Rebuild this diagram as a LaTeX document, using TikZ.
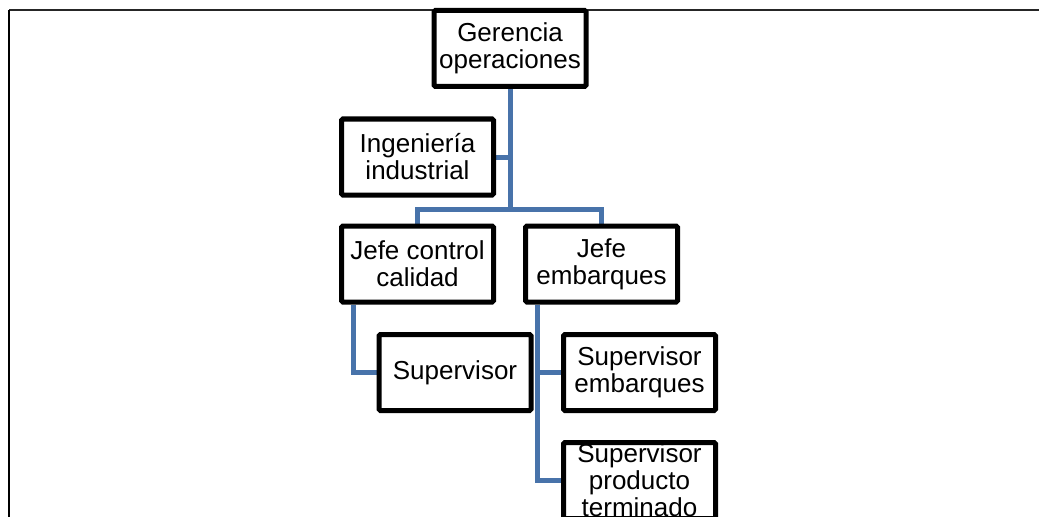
\documentclass[tikz,border=0pt]{standalone}
\usepackage{fontspec}
\setmainfont{Liberation Sans}
\usepackage{xcolor}
\usetikzlibrary{backgrounds}
\definecolor{orgblue}{RGB}{72,115,170}

\begin{document}
\begin{tikzpicture}[
    x=0.75pt, y=-0.75pt,
    font=\fontsize{19.5}{20.25}\selectfont,
    box/.style={draw, line width=3.75pt, rectangle, rounded corners=1pt, fill=white,
                minimum width=114pt, minimum height=57pt, inner sep=2pt, align=center},
    conn/.style={draw=orgblue, line width=3.75pt},
]
\useasboundingbox (0,0) rectangle (1039,517);
\clip (0,0) rectangle (1039,517);

% Frame
\draw[line width=1.5pt, black!85] (9,10) -- (1039,10);
\draw[line width=1.5pt] (9,10) -- (9,517);

% Boxes
\node[box] (ger) at (510, 48.5) {Gerencia\\operaciones};
\node[box] (ing) at (417.5, 157) {Ingeniería\\industrial};
\node[box] (jcc) at (417.5, 264) {Jefe control\\calidad};
\node[box] (jem) at (601.5, 264) {Jefe\\embarques};
\node[box] (sup) at (455, 372.5) {Supervisor};
\node[box] (sem) at (639.5, 372.5) {Supervisor\\embarques};
\node[box, label={[align=center]center:Supervisor\\producto\\terminado}] (spt) at (639.5, 480.5) {};
\coordinate (bar) at (510, 209);

% Connectors
\begin{scope}[on background layer]
\draw[conn] (ger.south) -- (ger.south |- bar);
\draw[conn] (ing.east) -- (ger.south |- ing.east);
\draw[conn] (jcc.north) -- (jcc.north |- bar) -- (jem.north |- bar) -- (jem.north);
\coordinate (jccdrop) at ([xshift=11pt]jcc.south west);
\coordinate (jemdrop) at ([xshift=11pt]jem.south west);
\draw[conn] (jccdrop) |- (sup.west);
\draw[conn] (jemdrop) |- (sem.west);
\draw[conn] (jemdrop) |- (spt.west);
\end{scope}

\end{tikzpicture}
\end{document}
